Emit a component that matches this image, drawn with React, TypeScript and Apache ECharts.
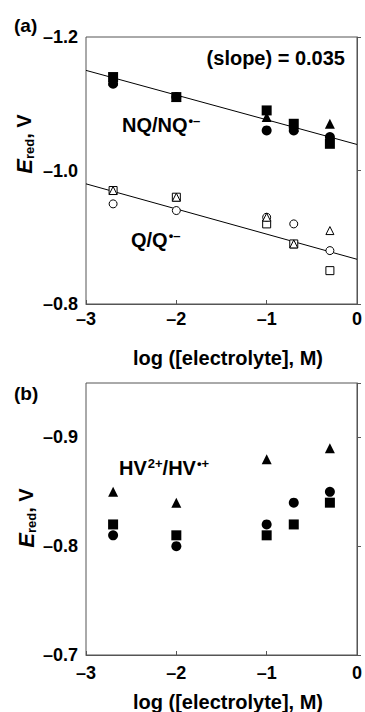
import React, { useEffect, useRef } from "react";
import * as echarts from "echarts";

// x positions: log([electrolyte], M)
const xVals = [-2.7, -2, -1, -0.7, -0.3];

// Panel (a): NQ/NQ•– (filled markers)
const nqSquare = [-1.14, -1.11, -1.09, -1.07, -1.04];
const nqCircle = [-1.13, -1.11, -1.06, -1.06, -1.05];
const nqTriangle = [-1.135, -1.11, -1.08, -1.065, -1.07];
const nqFit = [[-3, -1.15], [0, -1.039]];

// Panel (a): Q/Q•– (open markers)
const qSquare = [-0.97, -0.96, -0.92, -0.89, -0.85];
const qCircle = [-0.95, -0.94, -0.93, -0.92, -0.88];
const qTriangle = [-0.97, -0.96, -0.93, -0.89, -0.91];
const qFit = [[-3, -0.98], [0, -0.867]];

// Panel (b): HV2+/HV•+ (filled markers)
const hvSquare = [-0.82, -0.81, -0.81, -0.82, -0.84];
const hvCircle = [-0.81, -0.8, -0.82, -0.84, -0.85];
const hvTriangle = [-0.85, -0.84, -0.88, null, -0.89];

const xTicks = [-3, -2, -1, 0];
const yTicksA = [-1.2, -1.0, -0.8];
const yTicksB = [-0.9, -0.8, -0.7];

const FONT = "'Liberation Sans', Arial, Helvetica, sans-serif";
const AXIS = "#555";

function pairs(ys: (number | null)[]) {
  return xVals
    .map((x, i) => (ys[i] === null ? null : [x, ys[i] as number]))
    .filter((p) => p !== null);
}

function fmt(v: number, digits: number) {
  const a = Math.abs(v).toFixed(digits);
  return v < -1e-9 ? "\u2013" + a : a;
}

export default function App() {
  const ref = useRef<HTMLDivElement>(null);
  useEffect(() => {
    if (!ref.current) return;
    const chart = echarts.init(ref.current, null, { renderer: "svg" });

    const xAxisBase = (gridIndex: number, margin: number) => ({
      type: "value",
      gridIndex,
      min: -3,
      max: 0,
      interval: 1,
      axisLine: { show: true, lineStyle: { color: AXIS, width: 1 } },
      axisTick: {
        show: true,
        inside: true,
        length: 4,
        lineStyle: { color: AXIS },
      },
      axisLabel: {
        customValues: xTicks,
        formatter: (v: number) => fmt(v, 0),
        color: "#000",
        fontFamily: FONT,
        fontWeight: "bold",
        fontSize: 18,
        margin,
      },
      splitLine: { show: false },
    });

    const yAxisBase = (gridIndex: number, min: number, max: number, ticks: number[], tickOpts: any) => ({
      type: "value",
      gridIndex,
      inverse: true,
      min,
      max,
      ...tickOpts,
      axisLine: { show: true, lineStyle: { color: AXIS, width: 1 } },
      axisTick: {
        show: true,
        inside: true,
        length: 4,
        lineStyle: { color: AXIS },
      },
      axisLabel: {
        customValues: ticks,
        formatter: (v: number) => fmt(v, 1),
        color: "#000",
        fontFamily: FONT,
        fontWeight: "bold",
        fontSize: 18,
        margin: 8,
        verticalAlign: "middle",
        padding: [2, 0, 0, 0],
      },
      splitLine: { show: false },
    });

    const filled = (name: string, symbol: string, size: number, data: any[], xi: number, z: number) => ({
      name,
      type: "scatter",
      xAxisIndex: xi,
      yAxisIndex: xi,
      symbol,
      symbolSize: size,
      data,
      z,
      itemStyle: { color: "#000", opacity: 1 },
    });

    const open = (name: string, symbol: string, size: number, data: any[], z: number) => ({
      name,
      type: "scatter",
      xAxisIndex: 0,
      yAxisIndex: 0,
      symbol,
      symbolSize: size,
      data,
      z,
      itemStyle: { color: "#fff", borderColor: "#000", borderWidth: 1, opacity: 1 },
    });

    const fitLine = (name: string, data: number[][]) => ({
      name,
      type: "line",
      xAxisIndex: 0,
      yAxisIndex: 0,
      data,
      symbol: "none",
      z: 1,
      lineStyle: { color: "#000", width: 1 },
    });

    const baseText = {
      fill: "#000",
      fontFamily: FONT,
      fontWeight: "bold",
      fontSize: 20,
    };

    const supRich = {
      m: { fontFamily: FONT, fontWeight: "bold", fontSize: 20, fill: "#000", lineHeight: 22 },
      s: { fontFamily: FONT, fontWeight: "bold", fontSize: 13, fill: "#000", verticalAlign: "top", lineHeight: 22, padding: [0, 0, 0, 1] },
    } as any;

    const yTitleRich = {
      e: { fontFamily: FONT, fontWeight: "bold", fontStyle: "italic", fontSize: 22, fill: "#000", lineHeight: 24 },
      r: { fontFamily: FONT, fontWeight: "bold", fontSize: 13, fill: "#000", verticalAlign: "bottom", lineHeight: 24, padding: [8, 0, 0, 0] },
      v: { fontFamily: FONT, fontWeight: "bold", fontSize: 20, fill: "#000", lineHeight: 24 },
    } as any;

    const option: any = {
      animation: false,
      backgroundColor: "#fff",
      grid: [
        { left: 86, top: 37, width: 271, height: 267, show: true, borderColor: AXIS, borderWidth: 1, containLabel: false },
        { left: 86, top: 383, width: 272, height: 272, show: true, borderColor: AXIS, borderWidth: 1, containLabel: false },
      ],
      xAxis: [xAxisBase(0, 6), xAxisBase(1, 9)],
      yAxis: [
        yAxisBase(0, -1.2, -0.8, yTicksA, { interval: 0.2 }),
        yAxisBase(1, -0.95, -0.7, yTicksB, { splitNumber: 3 }),
      ],
      series: [
        fitLine("NQ fit", nqFit),
        fitLine("Q fit", qFit),
        filled("NQ circle", "circle", 10, pairs(nqCircle), 0, 2),
        filled("NQ triangle", "triangle", 10, pairs(nqTriangle), 0, 3),
        filled("NQ square", "rect", 10, pairs(nqSquare), 0, 4),
        open("Q square", "rect", 8, pairs(qSquare), 2),
        open("Q circle", "circle", 8, pairs(qCircle), 3),
        open("Q triangle", "triangle", 8, pairs(qTriangle), 4),
        filled("HV circle", "circle", 10, pairs(hvCircle), 1, 2),
        filled("HV triangle", "triangle", 10, pairs(hvTriangle), 1, 3),
        filled("HV square", "rect", 10, pairs(hvSquare), 1, 4),
      ],
      graphic: [
        { type: "text", x: 14, y: 25, style: { ...baseText, fontSize: 19, text: "(a)", align: "left", verticalAlign: "middle" } },
        { type: "text", x: 14, y: 393, style: { ...baseText, fontSize: 19, text: "(b)", align: "left", verticalAlign: "middle" } },
        { type: "text", x: 345, y: 58, style: { ...baseText, text: "(slope) = 0.035", align: "right", verticalAlign: "middle" } },
        { type: "text", x: 122, y: 125, style: { text: "{m|NQ/NQ}{s|\u2022\u2013}", rich: supRich, align: "left", verticalAlign: "middle" } },
        { type: "text", x: 131, y: 240, style: { text: "{m|Q/Q}{s|\u2022\u2013}", rich: supRich, align: "left", verticalAlign: "middle" } },
        { type: "text", x: 119, y: 468, style: { text: "{m|HV}{s|2+}{m|/HV}{s|\u2022+}", rich: supRich, align: "left", verticalAlign: "middle" } },
        { type: "text", x: 228, y: 358, style: { ...baseText, text: "log ([electrolyte], M)", align: "center", verticalAlign: "middle" } },
        { type: "text", x: 228, y: 702, style: { ...baseText, text: "log ([electrolyte], M)", align: "center", verticalAlign: "middle" } },
        { type: "text", x: 24, y: 144, rotation: Math.PI / 2, style: { text: "{e|E}{r|red}{v|, V}", rich: yTitleRich, align: "center", verticalAlign: "middle" } },
        { type: "text", x: 26, y: 518, rotation: Math.PI / 2, style: { text: "{e|E}{r|red}{v|, V}", rich: yTitleRich, align: "center", verticalAlign: "middle" } },
      ],
    };

    chart.setOption(option);
    return () => chart.dispose();
  }, []);

  return (
    <div
      ref={ref}
      style={{ position: "fixed", left: 0, top: 0, width: 365, height: 712, background: "#fff" }}
    />
  );
}
